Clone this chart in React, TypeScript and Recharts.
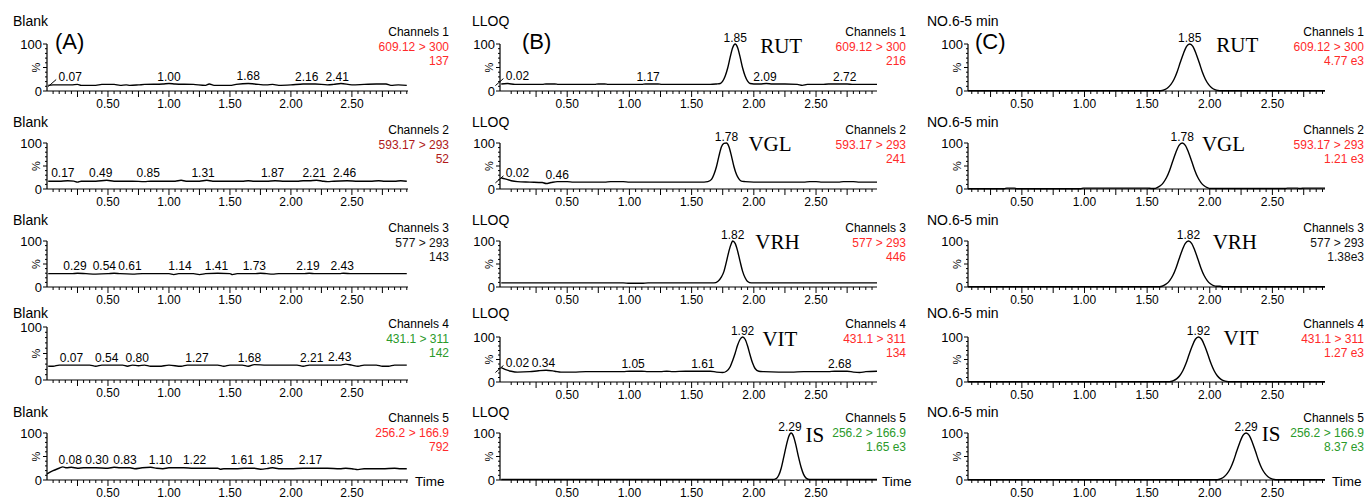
import React from "react";
import { ComposedChart, Line, XAxis, YAxis } from "recharts";

// ---------- text content ----------
const xTickLabels = ["0.50", "1.00", "1.50", "2.00", "2.50"];
const yTickLabels = ["0", "100"];
const panelTitles = ["Blank", "LLOQ", "NO.6-5 min"];
const panelLetters = ["(A)", "(B)", "(C)"];
const channelNames = ["Channels 1", "Channels 2", "Channels 3", "Channels 4", "Channels 5"];
const transitions = ["609.12 > 300", "593.17 > 293", "577 > 293", "431.1 > 311", "256.2 > 166.9"];
const intensitiesBlank = ["137", "52", "143", "142", "792"];
const intensitiesLLOQ = ["216", "241", "446", "134", "1.65 e3"];
const intensitiesSample = ["4.77 e3", "1.21 e3", "1.38e3", "1.27 e3", "8.37 e3"];
const compounds = ["RUT", "VGL", "VRH", "VIT", "IS"];

// ---------- chromatogram traces [time, %] ----------
const blankCh1 = [[0.01,12],[0.05,13],[0.12,13],[0.2,13],[0.25,14],[0.28,12],[0.4,12],[0.45,14],[0.55,14],[0.6,12],[0.65,13],[0.68,12],[0.75,13],[0.8,14],[0.95,15],[1.0,16],[1.05,15],[1.2,14],[1.3,12],[1.33,15],[1.37,12],[1.5,12],[1.55,14],[1.65,16],[1.7,15],[1.8,13],[1.85,14],[1.9,12],[2.0,13],[2.1,15],[2.2,15],[2.3,13],[2.35,14],[2.41,16],[2.5,13],[2.6,14],[2.7,15],[2.78,15],[2.82,12],[2.88,13],[2.95,12]];
const blankCh2 = [[0.01,17],[0.1,17],[0.17,18],[0.22,17],[0.25,15],[0.28,17],[0.4,17],[0.49,19],[0.55,17],[0.7,17],[0.8,16],[0.85,17],[0.95,17],[1.05,17],[1.1,19],[1.14,17],[1.25,17],[1.31,19],[1.36,17],[1.5,17],[1.6,17],[1.65,18],[1.7,17],[1.8,17],[1.87,18],[1.95,17],[2.05,17],[2.1,18],[2.15,18],[2.21,19],[2.26,17],[2.3,16],[2.35,17],[2.46,18],[2.55,17],[2.65,17],[2.72,18],[2.77,17],[2.85,17],[2.9,18],[2.95,17]];
const blankCh3 = [[0.01,29],[0.2,29],[0.25,30],[0.32,29],[0.4,28],[0.5,29],[0.55,30],[0.6,29],[0.7,28],[0.78,29],[1.0,29],[1.04,27],[1.08,29],[1.2,29],[1.25,27],[1.3,29],[1.4,30],[1.5,29],[1.52,27],[1.56,29],[1.7,29],[1.75,30],[1.8,29],[1.85,28],[1.9,29],[2.1,29],[2.15,30],[2.2,29],[2.4,29],[2.43,30],[2.5,29],[2.95,29]];
const blankCh4 = [[0.01,26],[0.05,26],[0.1,28],[0.2,28],[0.35,28],[0.4,26],[0.45,28],[0.55,28],[0.62,28],[0.66,26],[0.7,28],[0.75,27],[0.8,28],[0.85,26],[0.92,26],[1.0,28],[1.1,26],[1.15,28],[1.3,28],[1.4,28],[1.45,26],[1.5,28],[1.6,28],[1.65,26],[1.7,29],[1.8,28],[2.05,28],[2.1,26],[2.15,28],[2.4,28],[2.45,30],[2.5,28],[2.55,26],[2.6,28],[2.7,28],[2.75,26],[2.8,26],[2.85,28],[2.95,28]];
const blankCh5 = [[0.0,13],[0.05,20],[0.1,25],[0.13,28],[0.16,26],[0.2,27],[0.25,25],[0.3,26],[0.4,26],[0.5,25],[0.55,27],[0.6,26],[0.68,26],[0.72,24],[0.78,26],[0.85,27],[0.9,25],[0.95,24],[1.0,26],[1.05,26],[1.12,26],[1.2,25],[1.3,25],[1.4,25],[1.42,23],[1.45,24],[1.55,24],[1.62,25],[1.7,25],[1.75,23],[1.82,25],[1.85,26],[1.9,24],[2.0,24],[2.1,25],[2.2,25],[2.3,25],[2.4,24],[2.45,25],[2.5,24],[2.55,22],[2.6,24],[2.75,24],[2.85,25],[2.9,24],[2.95,24]];

const lloqCh1 = [[-0.03,15],[0.02,16],[0.08,14],[0.3,14],[0.33,15],[0.4,15],[0.43,14],[0.72,14],[0.75,15],[0.8,15],[0.83,14],[1.1,14],[1.13,15],[1.23,15],[1.26,14],[1.65,14],[1.7,15],[1.73,16],[1.75,21],[1.77,32],[1.79,49],[1.81,72],[1.83,92],[1.85,100],[1.87,92],[1.89,72],[1.91,49],[1.93,32],[1.95,21],[1.97,16],[2.0,15],[2.05,15],[2.1,16],[2.15,15],[2.25,15],[2.35,14],[2.39,12],[2.43,14],[2.55,14],[2.6,15],[2.75,15],[2.8,14],[2.99,14]];
const lloqCh2 = [[-0.03,24],[0.0,22],[0.05,18],[0.1,16],[0.2,15],[0.3,14],[0.33,12],[0.37,14],[0.42,16],[0.5,16],[0.55,15],[0.8,15],[0.85,16],[0.95,16],[1.0,15],[1.55,15],[1.6,15],[1.63,16],[1.66,21],[1.68,32],[1.7,49],[1.72,72],[1.74,92],[1.76,99],[1.78,100],[1.8,92],[1.82,72],[1.84,49],[1.86,32],[1.88,22],[1.9,17],[1.93,16],[2.0,15],[2.4,15],[2.45,16],[2.5,16],[2.55,15],[2.68,15],[2.72,16],[2.8,16],[2.85,15],[2.99,15]];
const lloqCh3 = [[-0.03,9],[0.5,9],[0.95,9],[1.0,8],[1.1,8],[1.15,9],[1.6,9],[1.68,9],[1.71,12],[1.74,22],[1.76,34],[1.78,55],[1.8,78],[1.82,95],[1.83,100],[1.85,95],[1.87,78],[1.89,55],[1.91,34],[1.93,20],[1.95,12],[1.98,9],[2.1,9],[2.99,9]];
const lloqCh4 = [[-0.03,32],[0.0,28],[0.05,24],[0.1,22],[0.2,23],[0.27,25],[0.33,26],[0.4,24],[0.45,22],[0.55,22],[0.65,23],[0.95,23],[1.0,24],[1.1,24],[1.15,23],[1.25,23],[1.3,24],[1.35,23],[1.45,24],[1.65,24],[1.7,22],[1.75,21],[1.78,24],[1.81,34],[1.83,48],[1.85,64],[1.87,82],[1.89,95],[1.91,100],[1.93,95],[1.95,80],[1.97,60],[1.99,42],[2.01,30],[2.04,24],[2.08,23],[2.2,22],[2.3,22],[2.4,23],[2.6,23],[2.65,24],[2.75,24],[2.8,22],[2.85,21],[2.9,23],[2.99,24]];
const lloqCh5 = [[-0.03,1],[2.15,1],[2.18,3],[2.2,10],[2.22,25],[2.24,48],[2.26,72],[2.28,92],[2.3,100],[2.32,92],[2.34,72],[2.36,48],[2.38,27],[2.4,12],[2.42,4],[2.45,1],[2.99,1]];

const sampleCh1 = [[0.07,0.5],[1.0,0.5],[1.6,0.5],[1.62,1],[1.64,3],[1.665,7],[1.69,14],[1.715,25],[1.74,41],[1.765,61],[1.79,80],[1.815,95],[1.84,100],[1.865,95],[1.89,80],[1.915,61],[1.94,41],[1.965,25],[1.99,14],[2.015,7],[2.04,3],[2.065,1],[2.09,0.5],[2.92,0.5]];
const sampleCh2 = [[0.07,0.5],[0.36,0.5],[0.38,2],[0.44,2],[0.46,0.5],[0.97,0.5],[0.99,2],[1.5,2],[1.54,1],[1.56,1],[1.58,3],[1.605,7],[1.63,14],[1.655,25],[1.68,41],[1.705,61],[1.73,80],[1.755,95],[1.78,100],[1.805,95],[1.83,80],[1.855,61],[1.88,41],[1.905,25],[1.93,14],[1.955,7],[1.98,3],[2.005,1],[2.03,1],[2.6,1],[2.62,2],[2.7,2],[2.72,1],[2.76,2],[2.92,2]];
const sampleCh3 = [[0.07,0.5],[1.0,0.5],[1.59,0.5],[1.61,1],[1.63,3],[1.655,7],[1.68,14],[1.705,25],[1.73,41],[1.755,61],[1.78,80],[1.805,95],[1.83,100],[1.855,95],[1.88,80],[1.905,61],[1.93,41],[1.955,25],[1.98,14],[2.005,7],[2.03,3],[2.055,1.5],[2.08,1.5],[2.1,0.5],[2.92,0.5]];
const sampleCh4 = [[0.07,0.5],[1.0,0.5],[1.67,0.5],[1.69,1],[1.71,3],[1.735,7],[1.76,14],[1.785,25],[1.81,41],[1.835,61],[1.86,80],[1.885,95],[1.91,100],[1.935,95],[1.96,80],[1.985,61],[2.01,41],[2.035,25],[2.06,14],[2.085,7],[2.11,3],[2.135,1],[2.16,0.5],[2.92,0.5]];
const sampleCh5 = [[0.07,0.5],[1.5,0.5],[2.05,0.5],[2.07,1],[2.09,3],[2.115,7],[2.14,14],[2.165,25],[2.19,41],[2.215,61],[2.24,80],[2.265,95],[2.29,100],[2.315,95],[2.34,80],[2.365,61],[2.39,41],[2.415,25],[2.44,14],[2.465,7],[2.49,3],[2.515,1],[2.54,0.5],[2.92,0.5]];

// ---------- peak annotations [time, %, text, kind] ----------
const blankLab1 = [[0.19,18,"0.07","lead"],[1.0,18,"1.00"],[1.65,19,"1.68"],[2.13,18,"2.16"],[2.38,18,"2.41"]];
const blankLab2 = [[0.13,21,"0.17"],[0.44,22,"0.49"],[0.83,21,"0.85"],[1.28,22,"1.31"],[1.85,21,"1.87"],[2.19,22,"2.21"],[2.44,21,"2.46"]];
const blankLab3 = [[0.23,33,"0.29"],[0.47,33,"0.54"],[0.68,33,"0.61"],[1.09,32,"1.14"],[1.39,33,"1.41"],[1.7,32,"1.73"],[2.14,33,"2.19"],[2.42,33,"2.43"]];
const blankLab4 = [[0.2,31,"0.07"],[0.49,31,"0.54"],[0.74,31,"0.80"],[1.23,31,"1.27"],[1.66,31,"1.68"],[2.17,31,"2.21"],[2.4,32,"2.43"]];
const blankLab5 = [[0.19,30,"0.08"],[0.41,29,"0.30"],[0.64,29,"0.83"],[0.93,29,"1.10"],[1.21,29,"1.22"],[1.6,29,"1.61"],[1.84,30,"1.85"],[2.16,29,"2.17"]];
const lloqLab1 = [[0.1,20,"0.02","lead"],[1.15,18,"1.17"],[1.85,100,"1.85"],[2.09,18,"2.09"],[2.73,18,"2.72"],[2.22,96,compounds[0],"big"]];
const lloqLab2 = [[0.1,22,"0.02","lead"],[0.42,18,"0.46"],[1.78,100,"1.78"],[2.13,97,compounds[1],"big"]];
const lloqLab3 = [[1.83,100,"1.82"],[2.19,97,compounds[2],"big"]];
const lloqLab4 = [[0.1,30,"0.02","lead"],[0.31,28,"0.34"],[1.03,26,"1.05"],[1.59,26,"1.61"],[1.91,100,"1.92"],[2.69,26,"2.68"],[2.21,96,compounds[3],"big"]];
const lloqLab5 = [[2.29,100,"2.29"],[2.49,96,compounds[4],"big"]];
const sampleLab1 = [[1.84,100,"1.85"],[2.22,98,compounds[0],"big"]];
const sampleLab2 = [[1.78,100,"1.78"],[2.11,98,compounds[1],"big"]];
const sampleLab3 = [[1.83,100,"1.82"],[2.2,98,compounds[2],"big"]];
const sampleLab4 = [[1.91,100,"1.92"],[2.25,98,compounds[3],"big"]];
const sampleLab5 = [[2.29,100,"2.29"],[2.49,98,compounds[4],"big"]];

const traces = [
  [blankCh1, blankCh2, blankCh3, blankCh4, blankCh5],
  [lloqCh1, lloqCh2, lloqCh3, lloqCh4, lloqCh5],
  [sampleCh1, sampleCh2, sampleCh3, sampleCh4, sampleCh5],
];
const annotations = [
  [blankLab1, blankLab2, blankLab3, blankLab4, blankLab5],
  [lloqLab1, lloqLab2, lloqLab3, lloqLab4, lloqLab5],
  [sampleLab1, sampleLab2, sampleLab3, sampleLab4, sampleLab5],
];
const intensities = [intensitiesBlank, intensitiesLLOQ, intensitiesSample];

// ---------- layout / style ----------
const RED = "#ff2a2a";
const DARKRED = "#b01818";
const GREEN = "#2a9a2a";
const BLACK = "#111";
const colColors = [
  [RED, DARKRED, BLACK, GREEN, RED],
  [RED, RED, RED, RED, GREEN],
  [RED, RED, BLACK, RED, GREEN],
];
const COLS = [
  { left: 47, right: 408, domain: [0, 2.96], chanRight: 449, titleLeft: 13, letterLeft: 55, timeLeft: 415 },
  { left: 500, right: 877, domain: [-0.04, 2.99], chanRight: 906, titleLeft: 472, letterLeft: 522, timeLeft: 882 },
  { left: 968, right: 1325, domain: [0.07, 2.92], chanRight: 1364, titleLeft: 927, letterLeft: 975, timeLeft: 1332 },
];
const ROWY = [
  [[44, 91], [143, 189], [241, 287], [327, 380], [433, 480]],
  [[44, 91], [143, 189], [241, 287], [337, 382], [433, 480]],
  [[44, 91], [143, 189], [241, 287], [337, 382], [433, 480]],
];
const TITLE_Y = [21, 122, 220, 313, 412];
const CHAN_Y = [32, 130, 228, 324, 418];
const SANS = "'Liberation Sans', Arial, sans-serif";
const SERIF = "'Liberation Serif', 'Times New Roman', serif";

const YW = 40, MTOP = 20, XH = 20, MRIGHT = 12;

function minorTicks(d: number[]) {
  const out: number[] = [];
  const k0 = Math.ceil(d[0] / 0.05 - 1e-6);
  const k1 = Math.floor(d[1] / 0.05 + 1e-6);
  for (let k = Math.max(k0, 1); k <= k1; k++) out.push(Math.round(k * 5) / 100);
  return out;
}

const makeXTick = (axisY: number) => (props: any) => {
  const { x, payload } = props;
  const k = Math.round(payload.value * 100);
  const major = k % 25 === 0;
  const lab = xTickLabels.find((s) => Math.round(parseFloat(s) * 100) === k);
  return (
    <g>
      <line x1={x} x2={x} y1={axisY} y2={axisY + (major ? 6 : 3)} stroke="#000" strokeWidth={1} />
      {lab && (
        <text x={x} y={axisY + 12.5} textAnchor="middle" dominantBaseline="central" fontSize={12} fontFamily={SANS} fill="#000">
          {lab}
        </text>
      )}
    </g>
  );
};

const makeYTick = (axisX: number) => (props: any) => {
  const { y, payload } = props;
  const v = payload.value as number;
  const lab = yTickLabels.find((s) => parseFloat(s) === v);
  const len = v % 50 === 0 ? 4 : 2;
  return (
    <g>
      <line x1={axisX - len} x2={axisX} y1={y} y2={y} stroke="#000" strokeWidth={1} />
      {lab && (
        <text x={axisX - 5} y={y} textAnchor="end" dominantBaseline="central" fontSize={13} fontFamily={SANS} fill="#000">
          {lab}
        </text>
      )}
      {v === 50 && (
        <text x={axisX - 11} y={y} textAnchor="middle" dominantBaseline="central" fontSize={11} fontFamily={SANS} fill="#000" transform={`rotate(-90 ${axisX - 11} ${y})`}>
          %
        </text>
      )}
    </g>
  );
};

const renderLabel = (props: any) => {
  const { cx, cy, payload, index } = props;
  if (cx == null || cy == null) return <g key={index} />;
  if (payload.kind === "big") {
    return (
      <text key={index} x={cx} y={cy} textAnchor="middle" dominantBaseline="central" fontSize={21} fontFamily={SERIF} fill="#000">
        {payload.s}
      </text>
    );
  }
  return (
    <g key={index}>
      {payload.kind === "lead" && <line x1={cx - 22} y1={cy + 4} x2={cx - 14} y2={cy - 3} stroke="#000" strokeWidth={1} />}
      <text x={cx} y={cy - 2} textAnchor="middle" fontSize={12} fontFamily={SANS} fill="#000">
        {payload.s}
      </text>
    </g>
  );
};

function Panel({ col, row }: { col: number; row: number }) {
  const c = COLS[col];
  const [y100, y0] = ROWY[col][row];
  const plotW = c.right - c.left;
  const plotH = y0 - y100;
  const width = YW + plotW + MRIGHT;
  const height = MTOP + plotH + XH;
  const pts = traces[col][row].map(([t, v]) => ({ t, v }));
  const labs = annotations[col][row].map((a: any[]) => ({ t: a[0], v: a[1], s: a[2], kind: a[3] }));
  return (
    <div style={{ position: "absolute", left: c.left - YW, top: y100 - MTOP }}>
      <ComposedChart width={width} height={height} margin={{ top: MTOP, right: MRIGHT, bottom: 0, left: 0 }}>
        <XAxis
          type="number"
          dataKey="t"
          domain={c.domain}
          ticks={minorTicks(c.domain)}
          interval={0}
          height={XH}
          tickLine={false}
          axisLine={{ stroke: "#000", strokeWidth: 1.2 }}
          tick={makeXTick(MTOP + plotH)}
        />
        <YAxis
          type="number"
          dataKey="v"
          domain={[0, 100]}
          ticks={[0, 10, 20, 30, 40, 50, 60, 70, 80, 90, 100]}
          interval={0}
          width={YW}
          tickLine={false}
          axisLine={{ stroke: "#000", strokeWidth: 1.2 }}
          tick={makeYTick(YW)}
        />
        <Line data={pts} dataKey="v" type="monotone" stroke="#000" strokeWidth={1.4} dot={false} activeDot={false} isAnimationActive={false} />
        <Line data={labs} dataKey="v" stroke="none" dot={renderLabel} activeDot={false} isAnimationActive={false} />
      </ComposedChart>
    </div>
  );
}

const txt = (extra: React.CSSProperties): React.CSSProperties => ({
  position: "absolute",
  transform: "translateY(-50%)",
  lineHeight: 1,
  whiteSpace: "nowrap",
  fontFamily: SANS,
  ...extra,
});

export default function App() {
  const panels: React.ReactNode[] = [];
  const texts: React.ReactNode[] = [];
  for (let col = 0; col < 3; col++) {
    const c = COLS[col];
    for (let row = 0; row < 5; row++) {
      panels.push(<Panel key={`p${col}${row}`} col={col} row={row} />);
      texts.push(
        <div key={`t${col}${row}`} style={txt({ left: c.titleLeft, top: TITLE_Y[row], fontSize: 14, color: "#000" })}>
          {panelTitles[col]}
        </div>
      );
      const lines = [channelNames[row], transitions[row], intensities[col][row]];
      lines.forEach((s, i) => {
        texts.push(
          <div
            key={`c${col}${row}${i}`}
            style={txt({ right: 1367 - c.chanRight, top: CHAN_Y[row] + i * 14.5, fontSize: 12, color: i === 0 ? "#000" : colColors[col][row] })}
          >
            {s}
          </div>
        );
      });
    }
    texts.push(
      <div key={`l${col}`} style={txt({ left: c.letterLeft, top: 42, fontSize: 22, color: "#000" })}>
        {panelLetters[col]}
      </div>
    );
    texts.push(
      <div key={`tm${col}`} style={txt({ left: c.timeLeft, top: ROWY[col][4][1] + 2, fontSize: 13.5, color: "#000" })}>
        Time
      </div>
    );
  }
  return (
    <div style={{ position: "absolute", left: 0, top: 0, width: 1367, height: 499, background: "#fff", overflow: "hidden" }}>
      {panels}
      {texts}
    </div>
  );
}
